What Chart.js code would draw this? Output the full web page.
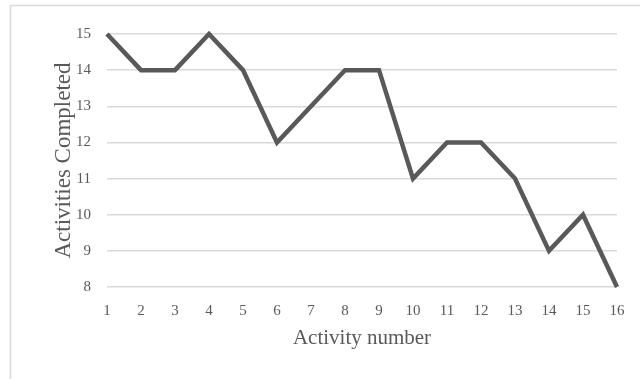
<!DOCTYPE html>
<html>
<head>
<meta charset="utf-8">
<script src="https://cdn.jsdelivr.net/npm/chart.js@4"></script>
<style>
  html, body { margin: 0; padding: 0; background: #fff; }
  #wrap { width: 640px; height: 379px; position: relative; }
</style>
</head>
<body>
<div id="wrap"><canvas id="chart" width="640" height="379"></canvas></div>
<script>
// --- chart data ---
const activityNumbers = ['1','2','3','4','5','6','7','8','9','10','11','12','13','14','15','16'];
const activitiesCompleted = [15, 14, 14, 15, 14, 12, 13, 14, 14, 11, 12, 12, 11, 9, 10, 8];
const yMin = 8;
const yMax = 15;

const GRAY = '#595959';
const FONT = "'Liberation Serif', 'DejaVu Serif', serif";

// light frame around the chart (clipped on the right / bottom like the source)
const framePlugin = {
    id: 'frame',
    beforeDraw(chart) {
        const ctx = chart.ctx;
        ctx.save();
        ctx.strokeStyle = '#d9d9d9';
        ctx.lineWidth = 1.5;
        ctx.strokeRect(10.5, 5.5, 700, 500);
        ctx.restore();
    }
};

new Chart(document.getElementById('chart').getContext('2d'), {
    type: 'line',
    data: {
        labels: activityNumbers,
        datasets: [{
            data: activitiesCompleted,
            borderColor: GRAY,
            borderWidth: 4.5,
            pointRadius: 0,
            tension: 0,
            fill: false,
            clip: false
        }]
    },
    options: {
        responsive: false,
        animation: false,
        layout: { padding: { left: 0, right: 23, top: 34, bottom: 0 } },
        plugins: {
            legend: { display: false },
            tooltip: { enabled: false }
        },
        scales: {
            x: {
                offset: false,
                grid: { display: false, drawTicks: false },
                border: { display: false },
                ticks: { color: GRAY, font: { family: FONT, size: 15 }, padding: 15, maxRotation: 0, autoSkip: false },
                title: { display: true, text: 'Activity number', color: GRAY, font: { family: FONT, size: 21 }, padding: { top: 0, bottom: 28 } },
                afterFit(scale) { scale.height = 92; }
            },
            y: {
                min: yMin,
                max: yMax,
                grid: { color: '#d9d9d9', lineWidth: 1.5, drawTicks: false },
                border: { display: false },
                ticks: { stepSize: 1, color: GRAY, font: { family: FONT, size: 15 }, padding: 16 },
                title: { display: true, text: 'Activities Completed', color: GRAY, font: { family: FONT, size: 23 }, padding: { top: 50, bottom: 0 } },
                afterFit(scale) { scale.width = 107; }
            }
        }
    },
    plugins: [framePlugin]
});
</script>
</body>
</html>
